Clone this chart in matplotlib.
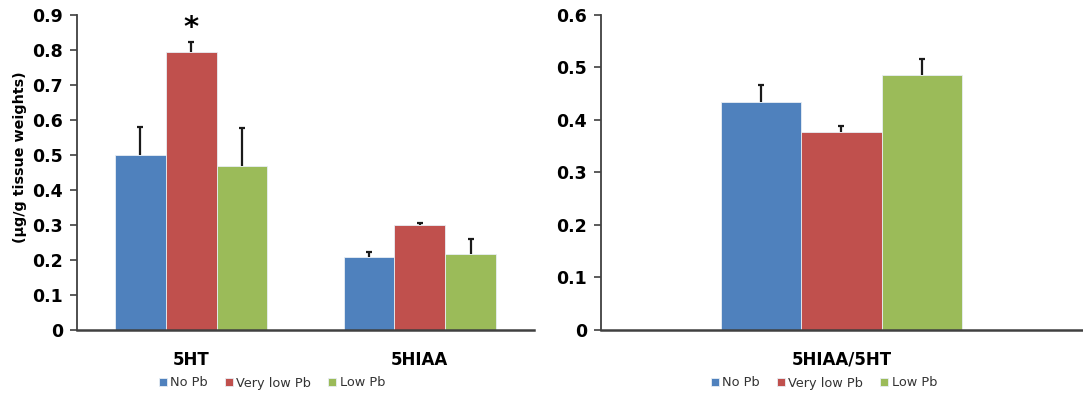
import numpy as np
import matplotlib
matplotlib.use("Agg")
import matplotlib.pyplot as plt

# data
groups = ["No Pb", "Very low Pb", "Low Pb"]
colors = ["#4F81BD", "#C0504D", "#9BBB59"]

left_categories = ["5HT", "5HIAA"]
left_means = {
    "No Pb": [0.500, 0.208],
    "Very low Pb": [0.795, 0.300],
    "Low Pb": [0.469, 0.216],
}
left_err = {
    "No Pb": [0.081, 0.016],
    "Very low Pb": [0.028, 0.007],
    "Low Pb": [0.109, 0.044],
}

right_categories = ["5HIAA/5HT"]
right_means = {
    "No Pb": [0.435],
    "Very low Pb": [0.377],
    "Low Pb": [0.486],
}
right_err = {
    "No Pb": [0.032],
    "Very low Pb": [0.012],
    "Low Pb": [0.030],
}

plt.rcParams["font.family"] = ["DejaVu Sans"]
axis_color = "#404040"


def draw_panel(ax, categories, means, errs, group_width, ymax, ystep):
    x = np.arange(len(categories))
    w = group_width / len(groups)
    for i, g in enumerate(groups):
        pos = x - group_width / 2 + w * (i + 0.5)
        m = np.array(means[g])
        e = np.array(errs[g])
        ax.bar(pos, m, width=w, color=colors[i], edgecolor="#E8EEF4",
               linewidth=0.6, label=g, zorder=2)
        # only the upper half of the error bar, as in the original
        ax.vlines(pos, m, m + e, color="#1a1a1a", linewidth=1.6, zorder=3)
        ax.plot(pos, m + e, ls="none", marker="_", ms=5, mew=1.6, color="#1a1a1a", zorder=3)
    ax.set_xlim(-0.5, len(categories) - 0.5)
    ax.set_ylim(0, ymax)
    ticks = np.round(np.arange(0, ymax + ystep / 2, ystep), 2)
    ax.set_yticks(ticks)
    ax.set_yticklabels(["0" if t == 0 else f"{t:g}" for t in ticks],
                       fontsize=12.5, fontweight="bold")
    ax.set_xticks(x)
    ax.set_xticklabels(categories, fontsize=12, fontweight="bold")
    ax.tick_params(axis="x", length=0, pad=15)
    ax.tick_params(axis="y", length=5, width=1.2, color=axis_color, pad=5, direction="out")
    for s in ["top", "right"]:
        ax.spines[s].set_visible(False)
    ax.spines["left"].set_color(axis_color)
    ax.spines["bottom"].set_color(axis_color)
    ax.spines["left"].set_linewidth(1.3)
    ax.spines["bottom"].set_linewidth(1.8)


fig = plt.figure(figsize=(10.83, 3.98), dpi=100)
ax1 = fig.add_axes([0.0711, 0.1709, 0.422, 0.7915])
ax2 = fig.add_axes([0.555, 0.1709, 0.444, 0.7915])

draw_panel(ax1, left_categories, left_means, left_err, 2 / 3, 0.9, 0.1)
draw_panel(ax2, right_categories, right_means, right_err, 0.5, 0.6, 0.1)

ax1.set_ylabel("(µg/g tissue weights)", fontsize=10.3, fontweight="bold")
ax1.yaxis.set_label_coords(-0.109, 0.549)

# significance mark above the very low Pb bar
ax1.text(0, 0.862, "*", ha="center", va="center", fontsize=21, fontweight="bold")

for ax, cx in [(ax1, 272 / 1083), (ax2, 824 / 1083)]:
    ax.legend(loc="center", bbox_to_anchor=(cx, 1 - 383 / 398), bbox_transform=fig.transFigure,
              ncol=3, frameon=False, fontsize=9.3, handlelength=0.6, handleheight=0.6,
              handletextpad=0.3, columnspacing=1.3, labelcolor="#333333")

fig.savefig("out.png", dpi=100)
